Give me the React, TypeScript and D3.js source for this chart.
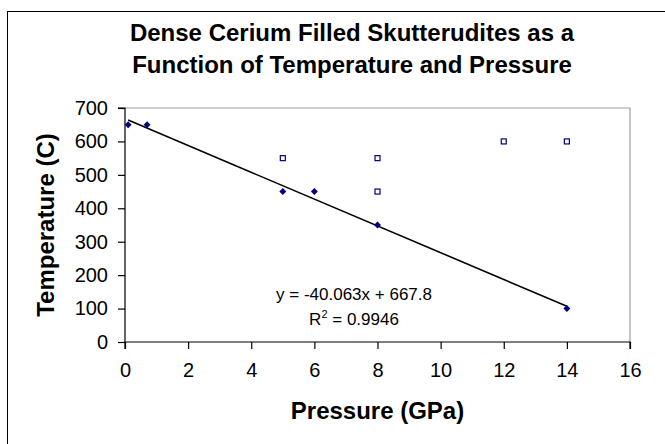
import React, { useEffect, useRef } from 'react';
import * as d3 from 'd3';

// filled diamonds (dense phase)
const denseP = [0.1, 0.7, 5, 6, 8, 14];
const denseT = [650, 650, 450, 450, 350, 100];
// hollow squares
const otherP = [5, 8, 8, 12, 14];
const otherT = [550, 550, 450, 600, 600];

const xTicks = [0, 2, 4, 6, 8, 10, 12, 14, 16];
const yTicks = [0, 100, 200, 300, 400, 500, 600, 700];

const slope = -40.063;
const intercept = 667.8;

const titleLines = ['Dense Cerium Filled Skutterudites as a', 'Function of Temperature and Pressure'];

export default function App() {
    const ref = useRef<SVGSVGElement>(null);
    const width = 665;
    const height = 444;
    const margin = { top: 108, right: 35, bottom: 102, left: 125 };

    useEffect(() => {
        const svg = d3.select(ref.current);
        svg.selectAll('*').remove();
        const font = 'Arial, "Liberation Sans", sans-serif';

        const x = d3.scaleLinear().domain([0, 16]).range([margin.left, width - margin.right]);
        const y = d3.scaleLinear().domain([0, 700]).range([height - margin.bottom, margin.top]);

        // chart area border (runs off the right and bottom edge)
        svg.append('rect')
            .attr('x', 7.5).attr('y', 11.5)
            .attr('width', 700).attr('height', 500)
            .attr('fill', 'white').attr('stroke', 'black').attr('stroke-width', 1);

        // plot area border (top + right)
        svg.append('path')
            .attr('d', `M${x(0)},${y(700)}H${x(16)}V${y(0)}`)
            .attr('fill', 'none').attr('stroke', '#a0a0a0').attr('stroke-width', 1.2);

        // title
        titleLines.forEach((t, i) => {
            svg.append('text')
                .attr('x', 352).attr('y', 41 + i * 32)
                .attr('text-anchor', 'middle')
                .style('font-family', font).style('font-weight', 'bold').style('font-size', '24px')
                .text(t);
        });

        // axes
        const xAxis = d3.axisBottom(x).tickValues(xTicks).tickSize(7).tickPadding(14);
        const yAxis = d3.axisLeft(y).tickValues(yTicks).tickSize(7).tickPadding(10);
        const gx = svg.append('g').attr('transform', `translate(0,${y(0)})`).call(xAxis);
        const gy = svg.append('g').attr('transform', `translate(${x(0)},0)`).call(yAxis);
        [gx, gy].forEach(g => {
            g.select('.domain').attr('stroke', 'black').attr('stroke-width', 1.2);
            g.selectAll('.tick line').attr('stroke', 'black').attr('stroke-width', 1.2);
            g.selectAll('.tick text')
                .attr('fill', 'black')
                .style('font-family', font).style('font-size', '20px');
        });
        gx.select('.domain').attr('d', `M${x(0)},7V0H${x(16)}V7`);
        gy.select('.domain').attr('d', `M-7,${y(700)}H0V${y(0)}`);

        // axis titles
        svg.append('text')
            .attr('x', (x(0) + x(16)) / 2).attr('y', 419)
            .attr('text-anchor', 'middle')
            .style('font-family', font).style('font-weight', 'bold').style('font-size', '24px')
            .text('Pressure (GPa)');
        svg.append('text')
            .attr('transform', `translate(54,${(y(0) + y(700)) / 2}) rotate(-90)`)
            .attr('text-anchor', 'middle')
            .style('font-family', font).style('font-weight', 'bold').style('font-size', '24px')
            .text('Temperature (C)');

        // linear trend line over the dense points
        const xMin = d3.min(denseP) as number;
        const xMax = d3.max(denseP) as number;
        svg.append('line')
            .attr('x1', x(xMin)).attr('y1', y(slope * xMin + intercept))
            .attr('x2', x(xMax)).attr('y2', y(slope * xMax + intercept))
            .attr('stroke', 'black').attr('stroke-width', 1.6);

        // hollow squares
        svg.append('g').selectAll('rect')
            .data(otherP.map((p, i) => [p, otherT[i]]))
            .enter().append('rect')
            .attr('x', d => x(d[0]) - 2.5).attr('y', d => y(d[1]) - 2.5)
            .attr('width', 5).attr('height', 5)
            .attr('fill', 'white').attr('stroke', '#000080').attr('stroke-width', 1.2);

        // diamonds
        svg.append('g').selectAll('path')
            .data(denseP.map((p, i) => [p, denseT[i]]))
            .enter().append('path')
            .attr('transform', d => `translate(${x(d[0])},${y(d[1])}) rotate(45)`)
            .attr('d', d3.symbol().type(d3.symbolSquare).size(24)() as string)
            .attr('fill', '#000080');

        // equation
        const eq = svg.append('g').style('font-family', font).style('font-size', '17px');
        eq.append('text')
            .attr('x', 354).attr('y', 300).attr('text-anchor', 'middle')
            .text(`y = ${slope}x + ${intercept}`);
        const r2 = eq.append('text').attr('x', 354).attr('y', 325).attr('text-anchor', 'middle');
        r2.append('tspan').text('R');
        r2.append('tspan').attr('dy', -7).style('font-size', '11px').text('2');
        r2.append('tspan').attr('dy', 7).text(' = 0.9946');
    }, []);

    return (
        <svg ref={ref} width={width} height={height}
            style={{ position: 'absolute', left: 0, top: 0, background: 'white' }} />
    );
}
